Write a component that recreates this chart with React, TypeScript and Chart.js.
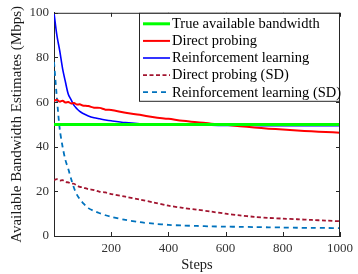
import React, { useEffect, useRef } from "react";
import { Chart, registerables } from "chart.js";

Chart.register(...registerables);

const STEPS = [0, 10, 20, 30, 40, 50, 60, 70, 80, 90, 100, 120, 140, 160, 180, 200, 250, 300, 350, 400, 450, 500, 550, 600, 650, 700, 750, 800, 850, 900, 950, 1000];

const TRUE_BW = [50, 50, 50, 50, 50, 50, 50, 50, 50, 50, 50, 50, 50, 50, 50, 50, 50, 50, 50, 50, 50, 50, 50, 50, 50, 50, 50, 50, 50, 50, 50, 50];
const DIRECT = [60.5, 61, 60.2, 60.6, 59.8, 60, 59.4, 59.6, 58.9, 59, 58.5, 58.2, 57.5, 57.4, 56.6, 56.5, 55.2, 54.3, 53.2, 52.5, 51.6, 51, 50.3, 49.8, 49.2, 48.6, 48.1, 47.7, 47.3, 46.9, 46.6, 46.3];
const RL = [100, 90, 83, 75, 69, 63.5, 61, 58.5, 57, 55.8, 55, 53.8, 53, 52.5, 52, 51.6, 50.8, 50.3, 50, 49.8, 49.7, 49.6, 49.6, 49.5, 49.5, 49.5, 49.4, 49.4, 49.4, 49.4, 49.4, 49.4];
const DIRECT_SD = [25, 25.5, 24.8, 25, 24.2, 24, 23.5, 23.4, 22.6, 22, 21.8, 21, 20.6, 19.8, 19.5, 18.8, 17.6, 16.3, 15, 13.6, 12.6, 11.8, 10.9, 10, 9.2, 8.6, 8.1, 7.8, 7.5, 7.2, 6.9, 6.6];
const RL_SD = [78, 62, 48, 40, 34, 30, 25.5, 21.5, 18.5, 16.5, 15, 12.5, 11.2, 10.2, 9.3, 8.6, 7.2, 6.2, 5.5, 5, 4.7, 4.5, 4.3, 4.2, 4.1, 4, 3.9, 3.8, 3.7, 3.6, 3.6, 3.5];

const LABELS = ["True available bandwidth", "Direct probing", "Reinforcement learning", "Direct probing (SD)", "Reinforcement learning (SD)"];
const X_TICKS = [200, 400, 600, 800, 1000];
const Y_TICKS = [0, 20, 40, 60, 80, 100];

const FONT = "'Liberation Serif', 'Times New Roman', serif";
const AXIS_COLOR = "#262626";

const toPts = (ys: number[]) => STEPS.map((x, i) => ({ x, y: ys[i] }));

const framePlugin = {
  id: "frameAndLegend",
  afterDraw(chart: any) {
    const { ctx, chartArea: a, scales } = chart;
    const xs = scales.x;
    const ys = scales.y;
    ctx.save();
    ctx.strokeStyle = AXIS_COLOR;
    ctx.lineWidth = 1;
    ctx.setLineDash([]);
    ctx.beginPath();
    ctx.moveTo(a.left, a.top + 0.5);
    ctx.lineTo(a.right, a.top + 0.5);
    ctx.moveTo(a.right - 0.5, a.top);
    ctx.lineTo(a.right - 0.5, a.bottom);
    const tl = 4;
    X_TICKS.forEach((v) => {
      const px = Math.round(xs.getPixelForValue(v)) + 0.5;
      ctx.moveTo(px, a.bottom);
      ctx.lineTo(px, a.bottom - tl);
      ctx.moveTo(px, a.top);
      ctx.lineTo(px, a.top + tl);
    });
    Y_TICKS.forEach((v) => {
      const py = Math.round(ys.getPixelForValue(v)) + 0.5;
      ctx.moveTo(a.left, py);
      ctx.lineTo(a.left + tl, py);
      ctx.moveTo(a.right, py);
      ctx.lineTo(a.right - tl, py);
    });
    ctx.stroke();

    // legend
    const bx = 139.5;
    const by = a.top + 0.5;
    const bw = a.right - 0.5 - bx;
    const bh = 88;
    ctx.fillStyle = "#ffffff";
    ctx.fillRect(bx, by, bw, bh);
    ctx.strokeStyle = AXIS_COLOR;
    ctx.lineWidth = 1;
    ctx.strokeRect(bx, by, bw, bh);
    ctx.font = `14.5px ${FONT}`;
    ctx.textBaseline = "middle";
    ctx.textAlign = "left";
    chart.data.datasets.forEach((ds: any, i: number) => {
      const cy = by + 10.5 + i * 17.1;
      ctx.strokeStyle = ds.borderColor;
      ctx.lineWidth = ds.borderWidth;
      ctx.setLineDash(ds.borderDash || []);
      ctx.beginPath();
      ctx.moveTo(143, cy);
      ctx.lineTo(170, cy);
      ctx.stroke();
      ctx.setLineDash([]);
      ctx.fillStyle = "#000000";
      ctx.fillText(ds.label, 172, cy + 0.5);
    });
    ctx.restore();
  },
};

export default function App() {
  const ref = useRef<HTMLCanvasElement>(null);
  useEffect(() => {
    if (!ref.current) return;
    const chart = new Chart(ref.current, {
      type: "line",
      data: {
        datasets: [
          { label: LABELS[0], data: toPts(TRUE_BW), borderColor: "#00ff00", borderWidth: 3, pointRadius: 0 },
          { label: LABELS[1], data: toPts(DIRECT), borderColor: "#ff0000", borderWidth: 2, pointRadius: 0 },
          { label: LABELS[2], data: toPts(RL), borderColor: "#0000ff", borderWidth: 1.6, pointRadius: 0 },
          { label: LABELS[3], data: toPts(DIRECT_SD), borderColor: "#a2142f", borderWidth: 1.8, borderDash: [4, 2.5], pointRadius: 0 },
          { label: LABELS[4], data: toPts(RL_SD), borderColor: "#0072bd", borderWidth: 1.8, borderDash: [5, 4], pointRadius: 0 },
        ] as any,
      },
      options: {
        animation: false,
        responsive: false,
        maintainAspectRatio: false,
        layout: { padding: { top: 12, right: 14, left: 0, bottom: 0 } },
        plugins: { legend: { display: false }, tooltip: { enabled: false } },
        elements: { line: { tension: 0.3 } },
        scales: {
          x: {
            type: "linear",
            min: 0,
            max: 1000,
            afterBuildTicks: (s: any) => {
              s.ticks = X_TICKS.map((v) => ({ value: v }));
            },
            grid: { display: false, drawTicks: false },
            border: { display: true, color: AXIS_COLOR, width: 1 },
            ticks: { color: "#333333", font: { family: FONT, size: 13 }, padding: 5, maxRotation: 0, autoSkip: false, callback: (v: any) => String(v) },
            title: { display: true, text: "Steps", color: "#1a1a1a", font: { family: FONT, size: 14.5 }, padding: { top: 0, bottom: 0 } },
            afterFit: (s: any) => {
              s.height = 38;
            },
          },
          y: {
            min: 0,
            max: 100,
            afterBuildTicks: (s: any) => {
              s.ticks = Y_TICKS.map((v) => ({ value: v }));
            },
            grid: { display: false, drawTicks: false },
            border: { display: true, color: AXIS_COLOR, width: 1 },
            ticks: { color: "#333333", font: { family: FONT, size: 13 }, padding: 5, callback: (v: any) => String(v) },
            title: { display: true, text: "Available Bandwidth Estimates (Mbps)", color: "#1a1a1a", font: { family: FONT, size: 15 }, padding: { top: 8, bottom: 0 } },
            afterFit: (s: any) => {
              s.width = 54;
            },
          },
        },
      } as any,
      plugins: [framePlugin],
    });
    return () => chart.destroy();
  }, []);
  return (
    <div style={{ position: "absolute", left: 0, top: 0, width: 358, height: 274, background: "#fff" }}>
      <canvas ref={ref} width={358} height={274} style={{ width: 358, height: 274, display: "block" }} />
    </div>
  );
}
